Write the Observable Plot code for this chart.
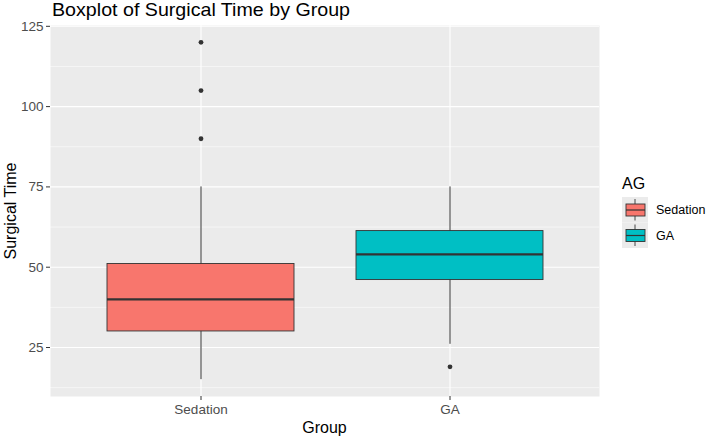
<!DOCTYPE html>
<html>
<head>
<meta charset="utf-8">
<script src="https://cdn.jsdelivr.net/npm/d3@7"></script>
<script src="https://cdn.jsdelivr.net/npm/@observablehq/plot@0.6"></script>
<style>
  html, body { margin: 0; padding: 0; background: #fff; }
  #chart { position: relative; width: 708px; height: 439px; font-family: "Liberation Sans", Arial, sans-serif; }
  #chart svg { position: absolute; left: 0; top: 0; }
</style>
</head>
<body>
<div id="chart"></div>
<script>
// Data
const groups = ["Sedation", "GA"];
const colors = ["#F8766D", "#00BFC4"];
const lowerWhisker = [15, 26];
const q1 = [30, 46];
const median = [40, 54];
const q3 = [51, 61.25];
const upperWhisker = [75, 75];
const outlierGroup = ["Sedation", "Sedation", "Sedation", "GA"];
const outlierValue = [120, 105, 90, 19];
const yTicks = [25, 50, 75, 100, 125];
const yMinor = [12.5, 37.5, 62.5, 87.5, 112.5];

const boxes = groups.map((g, i) => ({
  group: g, lo: lowerWhisker[i], q1: q1[i], med: median[i], q3: q3[i], hi: upperWhisker[i]
}));
const outliers = outlierGroup.map((g, i) => ({group: g, value: outlierValue[i]}));

const ML = 50, MR = 109, MT = 25, MB = 43;

const plot = Plot.plot({
  width: 708,
  height: 439,
  marginLeft: ML, marginRight: MR, marginTop: MT, marginBottom: MB,
  style: {fontFamily: "Liberation Sans, Arial, sans-serif", background: "transparent"},
  x: {type: "band", domain: groups, paddingInner: 0.25, paddingOuter: 0.225, align: 0.5, label: null},
  y: {domain: [9.75, 125.25], label: null},
  color: {domain: groups, range: colors},
  marks: [
    Plot.frame({fill: "#EBEBEB", stroke: null}),
    Plot.gridY(yMinor, {stroke: "#fff", strokeOpacity: 1, strokeWidth: 0.55}),
    Plot.gridY(yTicks, {stroke: "#fff", strokeOpacity: 1, strokeWidth: 1.1}),
    Plot.gridX(groups, {stroke: "#fff", strokeOpacity: 1, strokeWidth: 1.1}),
    Plot.axisY(yTicks, {tickSize: 4, tickPadding: 3, stroke: "#333", fill: "#4D4D4D", fontSize: 13.5, label: null}),
    Plot.axisX(groups, {tickSize: 4, tickPadding: 4, stroke: "#333", fill: "#4D4D4D", fontSize: 13.5, label: null}),
    Plot.ruleX(boxes, {x: "group", y1: "lo", y2: "hi", stroke: "#333", strokeWidth: 1}),
    Plot.barY(boxes, {x: "group", y1: "q1", y2: "q3", fill: "group", stroke: "#333", strokeWidth: 0.9}),
    Plot.tickY(boxes, {x: "group", y: "med", stroke: "#333", strokeWidth: 2.4}),
    Plot.dot(outliers, {x: "group", y: "value", r: 2.4, fill: "#333", stroke: null})
  ]
});
document.getElementById("chart").appendChild(plot);

// Titles and legend drawn in the same SVG
const svg = d3.select(plot);
svg.append("text").attr("x", 52).attr("y", 16).attr("text-anchor", "start")
  .attr("font-size", 18.5).attr("textLength", 298).attr("lengthAdjust", "spacingAndGlyphs")
  .attr("fill", "#000").text("Boxplot of Surgical Time by Group");
svg.append("text").attr("transform", "translate(15.5,211) rotate(-90)")
  .attr("text-anchor", "middle").attr("font-size", 16).attr("fill", "#000").text("Surgical Time");
svg.append("text").attr("x", 324.5).attr("y", 433)
  .attr("text-anchor", "middle").attr("font-size", 16).attr("fill", "#000").text("Group");

const lg = svg.append("g").attr("text-anchor", "start");
lg.append("text").attr("x", 622).attr("y", 189).attr("font-size", 16).attr("fill", "#000").text("AG");
groups.forEach((g, i) => {
  const y0 = 197 + i * 25.5;
  lg.append("rect").attr("x", 622).attr("y", y0).attr("width", 26).attr("height", 25.5).attr("fill", "#EBEBEB");
  lg.append("line").attr("x1", 635).attr("x2", 635).attr("y1", y0 + 2).attr("y2", y0 + 23.5).attr("stroke", "#333").attr("stroke-width", 0.9);
  lg.append("rect").attr("x", 626).attr("y", y0 + 7).attr("width", 19).attr("height", 12)
    .attr("fill", colors[i]).attr("stroke", "#333").attr("stroke-width", 0.9);
  lg.append("line").attr("x1", 626).attr("x2", 645).attr("y1", y0 + 13).attr("y2", y0 + 13).attr("stroke", "#333").attr("stroke-width", 1.2);
  lg.append("text").attr("x", 656).attr("y", y0 + 13).attr("dy", "0.35em").attr("font-size", 12.5).attr("fill", "#000").text(g);
});
</script>
</body>
</html>
